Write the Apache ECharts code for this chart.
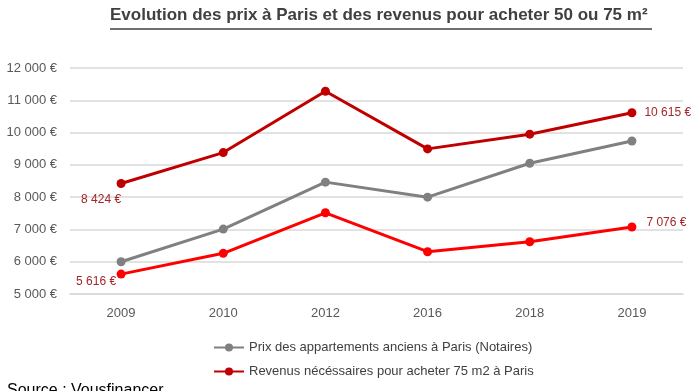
<!DOCTYPE html>
<html><head><meta charset="utf-8">
<script src="https://cdn.jsdelivr.net/npm/echarts@6/dist/echarts.min.js"></script>
<style>html,body{margin:0;padding:0;background:#fff;overflow:hidden}#c{width:695px;height:391px}</style>
</head><body><div id="c"></div>
<script>
const categories = ['2009','2010','2012','2016','2018','2019'];
const prixAppartements = [6000, 7010, 8465, 8000, 9050, 9740];
const revenus75 = [8424, 9380, 11280, 9495, 9950, 10615];
const revenus50 = [5616, 6260, 7515, 6310, 6620, 7076];
const yTicks = [5000, 6000, 7000, 8000, 9000, 10000, 11000, 12000];
const seriesNames = ['Prix des appartements anciens à Paris (Notaires)', 'Revenus nécéssaires pour acheter 75 m2 à Paris', 'Revenus nécéssaires pour acheter 50 m2 à Paris'];
const titleText = 'Evolution des prix à Paris et des revenus pour acheter 50 ou 75 m²';
const sourceText = 'Source : Vousfinancer';

const FONT = "'Liberation Sans','DejaVu Sans',sans-serif";
const fmt = v => String(v).replace(/\B(?=(\d{3})+(?!\d))/g, ' ') + ' €';

function withLabels(values, labelMap) {
  return values.map((v, i) => {
    if (labelMap[i]) return { value: v, label: Object.assign({ show: true, formatter: p => fmt(p.value), color: '#a3262a', fontSize: 12, fontFamily: FONT }, labelMap[i]) };
    return v;
  });
}

const chart = echarts.init(document.getElementById('c'), null, { renderer: 'canvas' });
chart.setOption({
  animation: false,
  textStyle: { fontFamily: FONT },
  grid: { left: 70, right: 12, top: 68, bottom: 97 },
  graphic: [
    { type: 'text', left: 110, top: 7, style: { text: titleText, font: "bold 17px " + FONT, fill: '#404040' } },
    { type: 'line', shape: { x1: 110, y1: 29, x2: 652, y2: 29 }, style: { stroke: '#404040', lineWidth: 1.5 } },
    { type: 'text', left: 7, top: 383, style: { text: sourceText, font: "16px " + FONT, fill: '#000' } }
  ],
  legend: {
    left: 208, top: 336, orient: 'vertical', itemGap: 11, itemWidth: 30, itemHeight: 10,
    data: [seriesNames[0], seriesNames[1]],
    textStyle: { color: '#404040', fontSize: 13, fontFamily: FONT }
  },
  xAxis: {
    type: 'category', data: categories, boundaryGap: true,
    axisLine: { lineStyle: { color: '#d9d9d9', width: 1.5 } },
    axisTick: { show: false },
    axisLabel: { color: '#595959', fontSize: 13, margin: 13 }
  },
  yAxis: {
    type: 'value', min: yTicks[0], max: yTicks[yTicks.length - 1], interval: 1000,
    axisLine: { show: false }, axisTick: { show: false },
    axisLabel: { color: '#595959', fontSize: 13, margin: 13, formatter: v => fmt(v) },
    splitLine: { lineStyle: { color: '#d9d9d9', width: 1.5 } }
  },
  series: [
    { name: seriesNames[0], type: 'line', data: prixAppartements, symbol: 'circle', symbolSize: 9,
      itemStyle: { color: '#808080' }, lineStyle: { width: 3, color: '#808080' } },
    { name: seriesNames[1], type: 'line', symbol: 'circle', symbolSize: 9,
      itemStyle: { color: '#c00000' }, lineStyle: { width: 3, color: '#c00000' },
      data: withLabels(revenus75, { 0: { position: 'bottom', offset: [-20, 1] }, 5: { position: 'right', offset: [3, 0] } }) },
    { name: seriesNames[2], type: 'line', symbol: 'circle', symbolSize: 9,
      itemStyle: { color: '#ff0000' }, lineStyle: { width: 3, color: '#ff0000' },
      data: withLabels(revenus50, { 0: { position: 'bottom', offset: [-25, -8] }, 5: { position: 'right', offset: [5, -4] } }) }
  ]
});
</script></body></html>
